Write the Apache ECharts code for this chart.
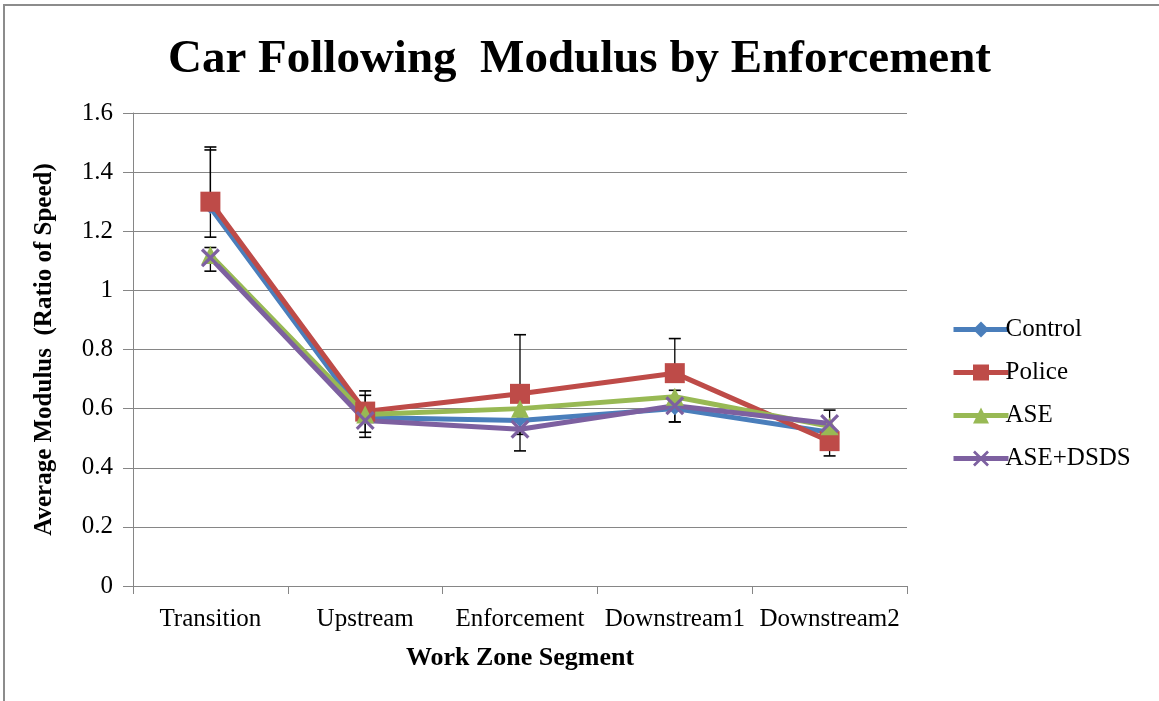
<!DOCTYPE html>
<html><head><meta charset="utf-8">
<script src="https://cdn.jsdelivr.net/npm/echarts@6/dist/echarts.min.js"></script>
<style>html,body{margin:0;padding:0;background:#fff}#c{width:1159px;height:701px}</style>
</head><body><div id="c"></div>
<script>
const categories = ['Transition','Upstream','Enforcement','Downstream1','Downstream2'];
const seriesNames = ['Control','Police','ASE','ASE+DSDS'];
const control = [1.28, 0.57, 0.56, 0.60, 0.52];
const police = [1.30, 0.59, 0.65, 0.72, 0.49];
const ase = [1.12, 0.58, 0.60, 0.64, 0.54];
const aseDsds = [1.11, 0.56, 0.53, 0.61, 0.55];
const controlErrUp = [0.195, 0.075, 0, 0, 0];
const controlErrDown = [0.10, 0.05, 0.047, 0.045, 0];
const policeErrUp = [0.185, 0.07, 0.20, 0.117, 0];
const policeErrDown = [0, 0, 0, 0, 0.05];
const aseErrUp = [0.025, 0, 0, 0.022, 0];
const aseErrDown = [0.055, 0.077, 0, 0, 0];
const dsdsErrUp = [0, 0, 0, 0, 0.045];
const dsdsErrDown = [0, 0, 0.073, 0.055, 0];
const yTicks = [0, 0.2, 0.4, 0.6, 0.8, 1, 1.2, 1.4, 1.6];

const FONT = "'Liberation Serif','Times New Roman',serif";
const colors = ['#4A7EBB','#BE4B48','#98B954','#7D60A0'];
const values = [control, police, ase, aseDsds];
const errUp = [controlErrUp, policeErrUp, aseErrUp, dsdsErrUp];
const errDown = [controlErrDown, policeErrDown, aseErrDown, dsdsErrDown];
const symbols = ['diamond','rect','triangle','path://M0,1.2 L1.2,0 L5,3.8 L8.8,0 L10,1.2 L6.2,5 L10,8.8 L8.8,10 L5,6.2 L1.2,10 L0,8.8 L3.8,5 Z'];
const symbolSizes = [13, 20, 18, 19];

function errRender(params, api) {
  const idx = api.value(0), v = api.value(1), up = api.value(2), dn = api.value(3);
  const lo = api.coord([idx, v - dn]);
  const hi = api.coord([idx, v + up]);
  const children = [{type:'line', shape:{x1:lo[0], y1:lo[1], x2:hi[0], y2:hi[1]}, style:{stroke:'#000', lineWidth:1.3}}];
  const w = 6;
  if (up > 0) children.push({type:'line', shape:{x1:hi[0]-w, y1:hi[1], x2:hi[0]+w, y2:hi[1]}, style:{stroke:'#000', lineWidth:1.6}});
  if (dn > 0) children.push({type:'line', shape:{x1:lo[0]-w, y1:lo[1], x2:lo[0]+w, y2:lo[1]}, style:{stroke:'#000', lineWidth:1.6}});
  return {type:'group', children};
}

const series = [];
values.forEach((vals, s) => {
  series.push({
    type:'custom', name: seriesNames[s] + ' err', renderItem: errRender, silent:true,
    data: vals.map((v, i) => [i, v, errUp[s][i], errDown[s][i]]),
    encode:{x:0, y:1}, z: 2
  });
});
values.forEach((vals, s) => {
  series.push({
    type:'line', name: seriesNames[s], data: vals, color: colors[s],
    symbol: symbols[s], symbolSize: symbolSizes[s],
    lineStyle:{width:5, color: colors[s]}, itemStyle:{color: colors[s]},
    z: 3, animation:false
  });
});

const chart = echarts.init(document.getElementById('c'));
chart.setOption({
  animation:false,
  backgroundColor:'#fff',
  graphic:[{type:'rect', shape:{x:4, y:5, width:1170, height:710}, style:{fill:'none', stroke:'#8c8c8c', lineWidth:2}, silent:true}],
  title:{text:'Car Following  Modulus by Enforcement', left:'center', top:31,
    textStyle:{fontFamily:FONT, fontSize:47, fontWeight:'bold', color:'#000'}},
  legend:{orient:'vertical', left:946, top:312, itemWidth:55, itemHeight:20, itemGap:18,
    data: seriesNames,
    lineStyle:{width:5},
    textStyle:{fontFamily:FONT, fontSize:25, color:'#000', padding:[0,0,0,-8]}},
  grid:{left:133, right:252, top:113, bottom:115},
  xAxis:{type:'category', data: categories, boundaryGap:true,
    name:'Work Zone Segment', nameLocation:'middle', nameGap:59,
    nameTextStyle:{fontFamily:FONT, fontSize:26, fontWeight:'bold', color:'#000'},
    axisLine:{lineStyle:{color:'#868686', width:1}},
    axisTick:{show:true, length:8, lineStyle:{color:'#868686'}},
    axisLabel:{fontFamily:FONT, fontSize:25, color:'#000', margin:21, interval:0},
    splitLine:{show:false}},
  yAxis:{type:'value', min:0, max:1.6, interval:0.2,
    name:'Average Modulus  (Ratio of Speed)', nameLocation:'middle', nameGap:76,
    nameTextStyle:{fontFamily:FONT, fontSize:25, fontWeight:'bold', color:'#000'},
    axisLine:{show:true, lineStyle:{color:'#868686', width:1}},
    axisTick:{show:true, length:10, lineStyle:{color:'#868686'}},
    axisLabel:{fontFamily:FONT, fontSize:25, color:'#000', margin:20,
      formatter: v => { const t = yTicks.find(x => Math.abs(x - v) < 1e-9); return String(t !== undefined ? t : v); }},
    splitLine:{lineStyle:{color:'#868686', width:1}}},
  series
});
</script></body></html>
